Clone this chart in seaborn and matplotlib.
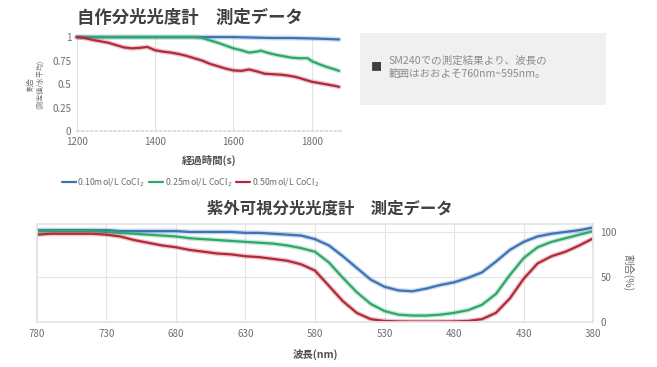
import matplotlib
matplotlib.use("Agg")
import matplotlib.pyplot as plt
import matplotlib.patheffects as pe
import seaborn as sns
import pandas as pd

sns.set_theme(style="white")
plt.rcParams['font.family'] = ['Noto Sans CJK JP', 'DejaVu Sans']

series_names = ["0.10mol/L CoCl$_2$", "0.25mol/L CoCl$_2$", "0.50mol/L CoCl$_2$"]
colors = ["#3b72b8", "#2ea86a", "#b5283a"]

# 自作分光光度計: elapsed time (s) vs ratio
time_blue = [1200, 1300, 1400, 1500, 1600, 1650, 1700, 1750, 1800, 1840, 1870]
ratio_blue = [1.0, 1.0, 1.0, 1.0, 1.0, 0.995, 0.99, 0.99, 0.985, 0.98, 0.975]

time_green = [1200, 1300, 1400, 1500, 1520, 1540, 1560, 1580, 1600, 1620, 1640, 1660,
              1670, 1690, 1710, 1730, 1750, 1770, 1790, 1800, 1820, 1840, 1860, 1870]
ratio_green = [1.0, 1.0, 1.0, 1.0, 0.99, 0.965, 0.94, 0.91, 0.88, 0.86, 0.835, 0.845,
               0.855, 0.83, 0.81, 0.795, 0.78, 0.775, 0.775, 0.745, 0.71, 0.68, 0.655, 0.64]

time_red = [1200, 1220, 1240, 1260, 1280, 1300, 1320, 1340, 1360, 1380, 1400, 1420, 1440,
            1460, 1480, 1500, 1520, 1540, 1560, 1580, 1600, 1620, 1640, 1660, 1680, 1700,
            1720, 1740, 1760, 1780, 1800, 1820, 1840, 1860, 1870]
ratio_red = [1.0, 0.99, 0.97, 0.955, 0.94, 0.915, 0.89, 0.88, 0.885, 0.895, 0.86, 0.845, 0.835,
             0.82, 0.80, 0.775, 0.75, 0.715, 0.69, 0.665, 0.645, 0.64, 0.655, 0.635, 0.61, 0.605,
             0.60, 0.59, 0.575, 0.55, 0.525, 0.51, 0.495, 0.48, 0.47]

# 紫外可視分光光度計: wavelength (nm) vs ratio (%)
wavelength = [780, 770, 760, 750, 740, 730, 720, 710, 700, 690, 680, 670, 660, 650, 640,
              630, 620, 610, 600, 590, 580, 570, 560, 550, 540, 530, 520, 510, 500, 490,
              480, 470, 460, 450, 440, 430, 420, 410, 400, 390, 380]
uv_blue = [102, 102, 102, 102, 102, 102, 101, 101, 101, 101, 101, 100, 100, 100, 100,
           99, 99, 98, 97, 96, 92, 85, 73, 60, 47, 39, 35, 34, 37, 41,
           44, 49, 55, 67, 80, 89, 95, 98, 100, 102, 105]
uv_green = [101, 101, 101, 101, 101, 100, 99, 98, 97, 96, 95, 93, 92, 91, 90,
            89, 88, 87, 85, 82, 78, 66, 49, 33, 20, 12, 8, 7, 7, 8,
            10, 13, 19, 31, 52, 71, 83, 89, 93, 97, 101]
uv_red = [97, 98, 98, 98, 98, 97, 95, 91, 88, 85, 83, 80, 78, 76, 75,
          73, 72, 70, 68, 64, 57, 40, 23, 10, 3, 1, 0.5, 0.3, 0.3, 0.3,
          0.5, 1, 3, 10, 26, 48, 65, 73, 78, 85, 93]

top_df = pd.concat([
    pd.DataFrame({"t": time_blue, "r": ratio_blue, "s": series_names[0]}),
    pd.DataFrame({"t": time_green, "r": ratio_green, "s": series_names[1]}),
    pd.DataFrame({"t": time_red, "r": ratio_red, "s": series_names[2]}),
])
uv_df = pd.concat([
    pd.DataFrame({"wl": wavelength, "r": uv_blue, "s": series_names[0]}),
    pd.DataFrame({"wl": wavelength, "r": uv_green, "s": series_names[1]}),
    pd.DataFrame({"wl": wavelength, "r": uv_red, "s": series_names[2]}),
])
palette = dict(zip(series_names, colors))

fig = plt.figure(figsize=(6.57, 3.67), dpi=100)
txt = "#6e6e6e"
grid_c = "#e4e4e4"

# ---- top chart
ax1 = fig.add_axes([0.117, 0.643, 0.402, 0.256])
sns.lineplot(data=top_df, x="t", y="r", hue="s", palette=palette, ax=ax1,
             linewidth=1.6, legend=False, sort=False)
for ln in ax1.get_lines():
    ln.set_clip_on(False)
    ln.set_path_effects([pe.Stroke(linewidth=3.5, foreground=ln.get_color(), alpha=0.25), pe.Normal()])
ax1.set_xlim(1200, 1875)
ax1.set_ylim(0, 1)
ax1.set_xticks([1200, 1400, 1600, 1800])
ax1.set_yticks([0, 0.25, 0.5, 0.75, 1])
ax1.set_yticklabels(["0", "0.25", "0.5", "0.75", "1"])
ax1.tick_params(labelsize=7, colors=txt, length=0, pad=4)
ax1.xaxis.grid(True, color=grid_c, linewidth=0.8)
for side in ["top", "right", "left"]:
    ax1.spines[side].set_visible(False)
ax1.spines["bottom"].set_color("#d9d9d9")
ax1.spines["bottom"].set_linestyle(":")
ax1.set_xlabel("経過時間(s)", fontsize=7.5, color="#505050", fontweight="bold", labelpad=6)
ax1.set_ylabel("割合\n(測定値/水平均)", fontsize=5, color=txt, labelpad=6)
fig.text(0.289, 0.951, "自作分光光度計　測定データ", fontsize=12.5, color="#404040",
         fontweight="bold", ha="center", va="center")

handles = [plt.Line2D([], [], color=c, linewidth=1.6) for c in colors]
fig.legend(handles, series_names, loc="center", bbox_to_anchor=(0.29, 0.503), ncol=3,
           frameon=False, fontsize=6.3, handlelength=1.6, handletextpad=0.2,
           columnspacing=0.5, labelcolor=txt)

# text box
fig.text(0.565, 0.817, "■", fontsize=8, color="#404040", va="center")
fig.text(0.592, 0.817, "SM240での測定結果より、波長の\n範囲はおおよそ760nm~595nm。",
         fontsize=7.6, color="#8c8c8c", va="center", linespacing=1.4)
box = plt.Rectangle((0.548, 0.714), 0.374, 0.196, transform=fig.transFigure,
                    facecolor="#f0f0f0", edgecolor="none", zorder=-1)
fig.patches.append(box)

# ---- bottom chart
ax2 = fig.add_axes([0.056, 0.123, 0.847, 0.267])
sns.lineplot(data=uv_df, x="wl", y="r", hue="s", palette=palette, ax=ax2,
             linewidth=1.6, legend=False)
for ln in ax2.get_lines():
    ln.set_path_effects([pe.Stroke(linewidth=3.5, foreground=ln.get_color(), alpha=0.25), pe.Normal()])
ax2.set_xlim(780, 380)
ax2.set_ylim(0, 109)
ax2.set_xticks([780, 730, 680, 630, 580, 530, 480, 430, 380])
ax2.set_yticks([0, 50, 100])
ax2.yaxis.tick_right()
ax2.yaxis.set_label_position("right")
ax2.tick_params(labelsize=7, colors=txt, length=0, pad=5)
ax2.grid(True, color=grid_c, linewidth=0.8)
for side in ["top", "right", "left", "bottom"]:
    ax2.spines[side].set_color(grid_c)
ax2.set_xlabel("波長(nm)", fontsize=7.5, color="#505050", fontweight="bold", labelpad=7)
ax2.set_ylabel("割合(%)", fontsize=7.5, color=txt, rotation=270, labelpad=12)
fig.text(0.502, 0.433, "紫外可視分光光度計　測定データ", fontsize=11.8, color="#404040",
         fontweight="bold", ha="center", va="center")

fig.savefig("out.png", dpi=100)
